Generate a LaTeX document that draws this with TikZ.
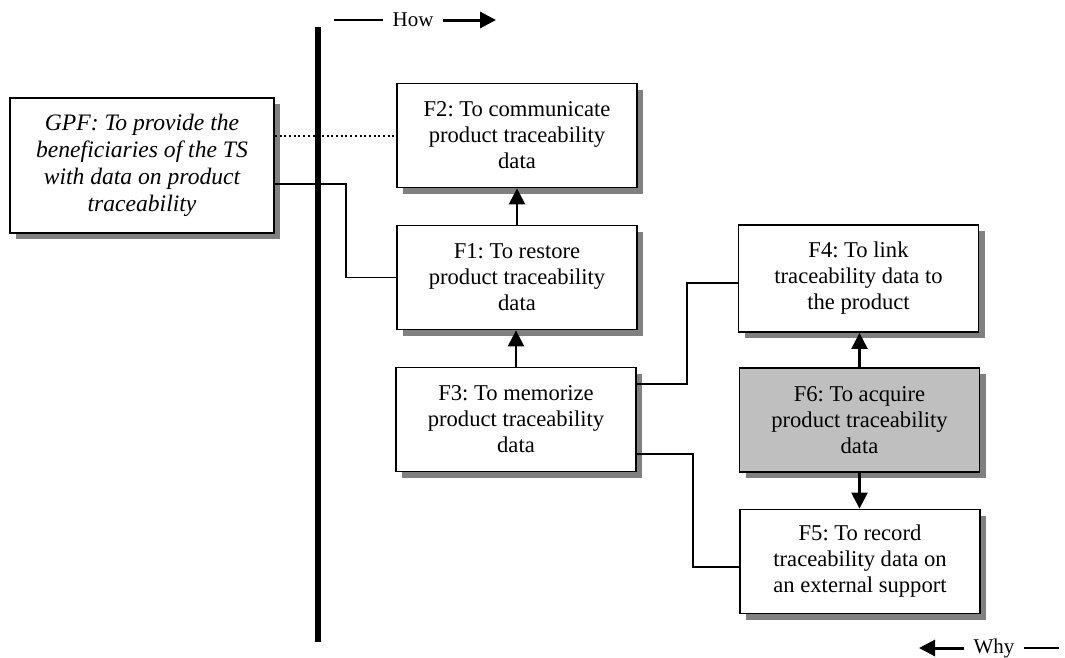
\documentclass[tikz,border=0pt]{standalone}
\usepackage{fontspec}
\setmainfont{Liberation Serif}
\usetikzlibrary{arrows.meta,shadows}
\begin{document}
\frenchspacing
\begin{tikzpicture}[x=1pt,y=-1pt,
  fbox/.style={draw, line width=1.8pt, fill=white, minimum width=240pt, minimum height=104pt,
    align=center, font=\fontsize{22.6}{26}\selectfont, inner sep=0pt,
    drop shadow={shadow xshift=6pt, shadow yshift=-6pt, fill=black!50, opacity=1}},
  conn/.style={line width=1.5pt},
  dotconn/.style={line width=2pt, dash pattern=on 2pt off 2.7pt},
  flow/.style={line width=2.4pt, -{Triangle[width=16pt,length=16pt]}},
  lbl/.style={font=\fontsize{21}{24}\selectfont, inner sep=9pt},
]
\useasboundingbox (0,0) rectangle (1065,657);
% vertical bar
\coordinate (bartop) at (317.5,27);
\coordinate (barbot) at (317.5,642);
\draw[line width=6pt] (bartop) -- (barbot);
% boxes
\node[fbox, minimum width=264pt, minimum height=135pt, font=\itshape\fontsize{23.6}{27}\selectfont] (GPF) at (142,165.5)
  {GPF: To provide the\\beneficiaries of the TS\\with data on product\\traceability};
\node[fbox] (F2) at (517,135.5) {F2: To communicate\\product traceability\\data};
\node[fbox] (F1) at (517,277.5) {F1: To restore\\product traceability\\data};
\node[fbox] (F3) at (516,419.5) {F3: To memorize\\product traceability\\data};
\node[fbox, minimum height=107pt] (F4) at (858.5,278.5) {F4: To link\\traceability data to\\the product};
\node[fbox, fill=black!25] (F6) at (859.5,420) {F6: To acquire\\product traceability\\data};
\node[fbox] (F5) at (860,561.5) {F5: To record\\traceability data on\\an external support};
% connectors
\draw[dotconn] (GPF.east |- F2.west) -- (F2.west);
\coordinate (j1) at (346,0);
\draw[conn] ([yshift=-18.5pt]GPF.east) -| (j1 |- F1.west) -- (F1.west);
\coordinate (j2) at (687,0);
\draw[conn] ([yshift=35.5pt]F3.east) -| (j2 |- 0,283) -- ([yshift=-4.5pt]F4.west);
\coordinate (j3) at (693,0);
\draw[conn] ([yshift=-34.5pt]F3.east) -| (j3 |- 0,567) -- ([yshift=-5.5pt]F5.west);
% flow arrows
\draw[flow] (F1.north) -- (F2.south);
\draw[flow] (F3.north) -- (F3.north |- F1.south);
\draw[flow] (F6.north) -- (F6.north |- F4.south);
\draw[flow] (F6.south) -- (F6.south |- F5.north);
% How / Why
\node[lbl] (how) at (413,20) {How};
\coordinate (howL) at (334,20);
\coordinate (howR) at (496,20);
\draw[conn] (howL) -- (how.west);
\draw[line width=3pt, -{Triangle[width=16pt,length=16pt]}] (how.east) -- (howR);
\node[lbl] (why) at (994,648) {Why};
\coordinate (whyL) at (919,648);
\coordinate (whyR) at (1059,648);
\draw[line width=3pt, -{Triangle[width=16pt,length=16pt]}] (why.west) -- (whyL);
\draw[conn] (why.east) -- (whyR);
\end{tikzpicture}
\end{document}
